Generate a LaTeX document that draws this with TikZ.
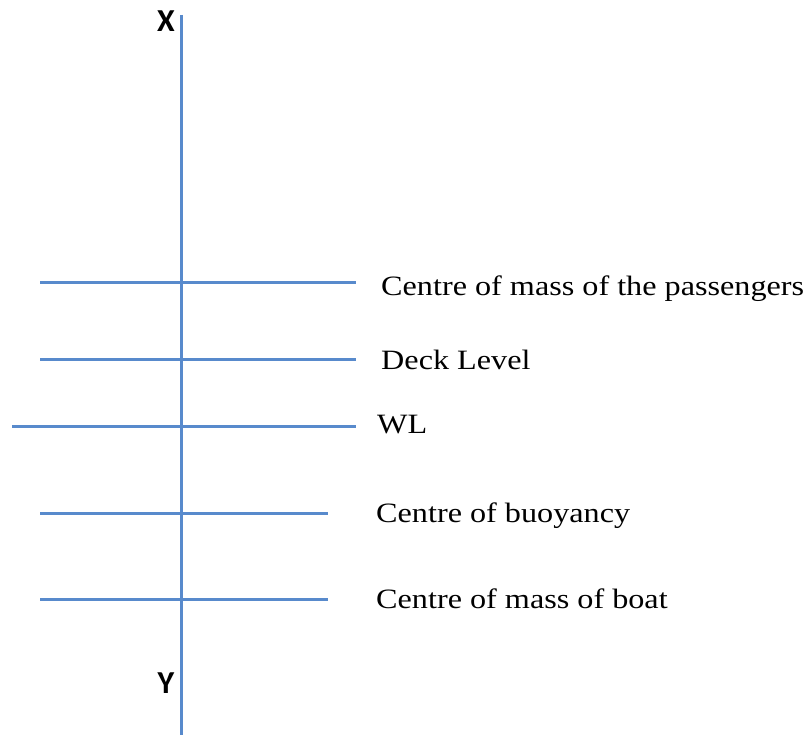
\documentclass[tikz,border=0pt]{standalone}
\usepackage{fontspec}
\setmainfont{Liberation Serif}[FakeStretch=1.15]
\newfontfamily\axisfont{Carlito}
\definecolor{lineblue}{RGB}{88,138,204}
\tikzset{
  hline/.style={draw=lineblue, line width=3pt},
  lbl/.style={anchor=base west, inner sep=0pt, font=\fontsize{28}{32}\selectfont},
  axlbl/.style={anchor=base, inner sep=0pt, font=\axisfont\bfseries\fontsize{32}{36}\selectfont}
}
\begin{document}
\begin{tikzpicture}[x=1pt,y=-1pt]
\useasboundingbox (0,0) rectangle (811,735);
\coordinate (top) at (181,15);
\coordinate (bot) at (181,735);
\draw[hline] (top) -- (bot);
\node[axlbl] (X) at (166,32) {X};
\node[axlbl] (Y) at (166,693) {Y};
\coordinate (a1) at (40,283); \coordinate (a2) at (356,283);
\coordinate (b1) at (40,359); \coordinate (b2) at (356,359);
\coordinate (c1) at (12,426); \coordinate (c2) at (356,426);
\coordinate (d1) at (40,513); \coordinate (d2) at (328,513);
\coordinate (e1) at (40,599); \coordinate (e2) at (328,599);
\draw[hline] (a1) -- (a2);
\draw[hline] (b1) -- (b2);
\draw[hline] (c1) -- (c2);
\draw[hline] (d1) -- (d2);
\draw[hline] (e1) -- (e2);
\node[lbl] (la) at (381,295) {Centre of mass of the passengers};
\node[lbl] (lb) at (381,369) {Deck Level};
\node[lbl] (lc) at (377,433) {WL};
\node[lbl] (ld) at (376,522) {Centre of buoyancy};
\node[lbl] (le) at (376,608) {Centre of mass of boat};
\end{tikzpicture}
\end{document}
